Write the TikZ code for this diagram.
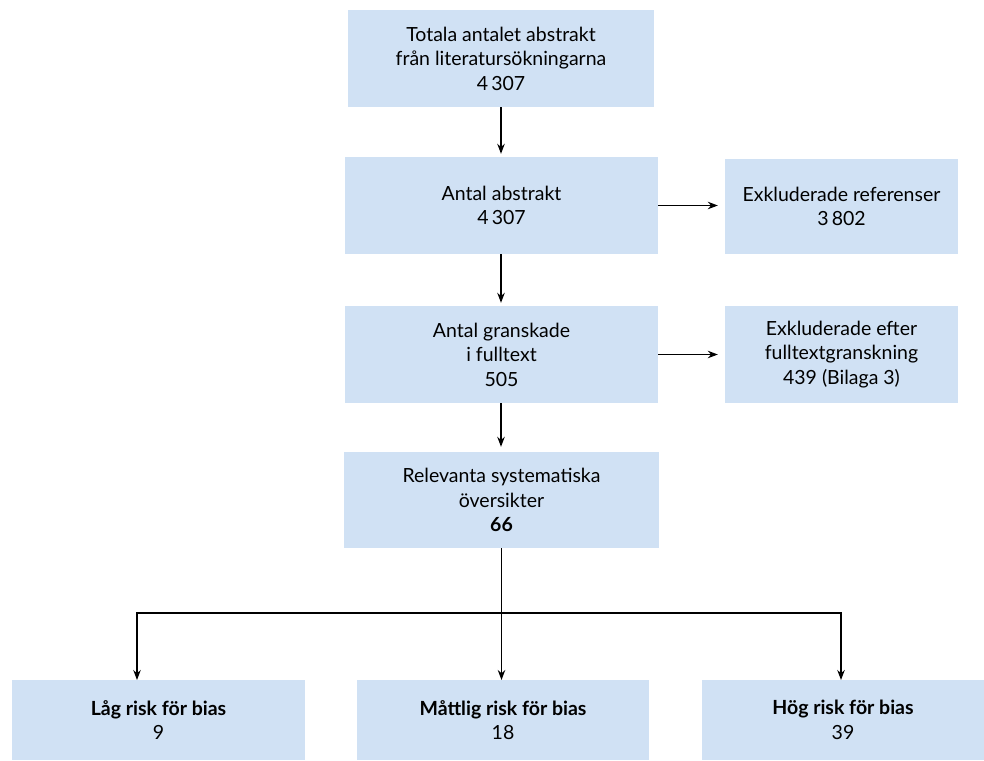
\documentclass[tikz,border=0pt]{standalone}
\usepackage{fontspec}
\setmainfont{Lato}
\usetikzlibrary{arrows.meta}
\definecolor{boxblue}{HTML}{D0E1F4}
\tikzset{
  box/.style={fill=boxblue, draw=none, inner sep=0pt, align=center,
    font=\fontsize{19.5}{24.5}\selectfont},
  arr/.style={line width=1.2pt, -{Stealth[length=10pt,width=7.5pt]}},
  ln/.style={line width=1.2pt}
}
\begin{document}
\begin{tikzpicture}[x=1pt,y=-1pt]
\useasboundingbox (0,0) rectangle (984,760);
\node[box, minimum width=306pt, minimum height=97pt] (tot) at (501,58.5)
  {Totala antalet abstrakt\\från literatursökningarna\\4\,307};
\node[box, minimum width=313pt, minimum height=97pt] (abs) at (501.5,205.5)
  {Antal abstrakt\\4\,307};
\node[box, minimum width=233pt, minimum height=95pt] (exr) at (841.5,206.5)
  {Exkluderade referenser\\3\,802};
\node[box, minimum width=313pt, minimum height=97pt] (gran) at (501.5,354.5)
  {Antal granskade\\i fulltext\\505};
\node[box, minimum width=233pt, minimum height=97pt] (exf) at (841.5,354.5)
  {Exkluderade efter\\fulltextgranskning\\439 (Bilaga 3)};
\node[box, minimum width=315pt, minimum height=96pt] (rel) at (501.5,500)
  {Relevanta systematiska\\översikter\\\textbf{66}};
\node[box, minimum width=293pt, minimum height=80pt] (low) at (158.5,720)
  {\textbf{Låg risk för bias}\\9};
\node[box, minimum width=292pt, minimum height=80pt] (mid) at (503,720)
  {\textbf{Måttlig risk för bias}\\18};
\node[box, minimum width=282pt, minimum height=80pt] (high) at (843,720)
  {\textbf{Hög risk för bias}\\39};
\coordinate (split) at (501.5,613);
\coordinate (lowin) at (137,680);
\coordinate (midin) at (501.5,680);
\coordinate (highin) at (841,680);
\draw[arr, shorten >=3pt] (tot.south -| 501,0) -- (abs.north -| 501,0);
\draw[arr, shorten >=3pt] (abs.south -| 501,0) -- (gran.north -| 501,0);
\draw[arr, shorten >=5pt] (gran.south -| 501,0) -- (rel.north -| 501,0);
\draw[arr, shorten >=7pt] (abs.east) -- (abs.east -| exr.west);
\draw[arr, shorten >=7pt] (gran.east) -- (gran.east -| exf.west);
\draw[ln] (rel.south) -- (split);
\draw[arr] (split) -| (lowin);
\draw[arr] (split) -| (highin);
\draw[arr] (split) -- (midin);
\end{tikzpicture}
\end{document}
